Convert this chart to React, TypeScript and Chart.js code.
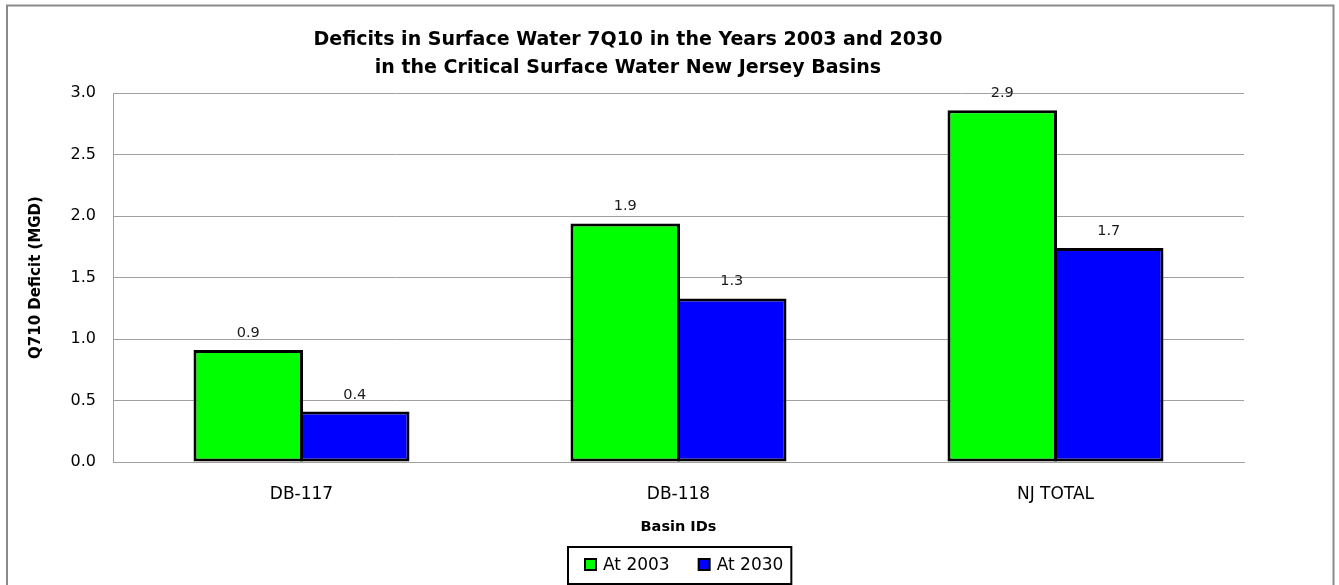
import React, { useEffect, useRef } from "react";
import { Chart, registerables } from "chart.js";

Chart.register(...registerables);

// Basins and the 7Q10 deficits (MGD) for each planning year
const basins = ["DB-117", "DB-118", "NJ TOTAL"];
const deficit2003 = [0.91, 1.94, 2.86];
const deficit2030 = [0.41, 1.33, 1.74];
const seriesNames = ["At 2003", "At 2030"];
const seriesColors = ["#00ff00", "#0000ff"];

const chartTitle = [
  "Deficits in Surface Water 7Q10 in the Years 2003 and 2030",
  "in the Critical Surface Water New Jersey Basins",
];
const yAxisTitle = "Q710 Deficit (MGD)";
const xAxisTitle = "Basin IDs";
const yMin = 0;
const yMax = 3;
const yStep = 0.5;

const W = 1339;
const H = 585;
const FONT = "'DejaVu Sans', Verdana, sans-serif";

// Thin grey frame around the whole chart
const framePlugin = {
  id: "outerFrame",
  beforeDraw(chart: any) {
    const ctx = chart.ctx;
    ctx.save();
    ctx.fillStyle = "#ffffff";
    ctx.fillRect(0, 0, chart.width, chart.height);
    ctx.strokeStyle = "#8a8a8a";
    ctx.lineWidth = 2;
    ctx.strokeRect(7, 5.5, 1326.5, 700);
    ctx.restore();
  },
};

// Value labels above every bar (one decimal)
const valueLabelPlugin = {
  id: "valueLabels",
  afterDatasetsDraw(chart: any) {
    const ctx = chart.ctx;
    ctx.save();
    ctx.font = `14.5px ${FONT}`;
    ctx.fillStyle = "#1a1a1a";
    ctx.textAlign = "center";
    ctx.textBaseline = "alphabetic";
    chart.data.datasets.forEach((ds: any, i: number) => {
      const meta = chart.getDatasetMeta(i);
      meta.data.forEach((bar: any, j: number) => {
        const v = Number(ds.data[j]);
        ctx.fillText(v.toFixed(1), bar.x, bar.y - 13);
      });
    });
    ctx.restore();
  },
};

// Legend in a black box under the axis title
const boxedLegendPlugin = {
  id: "boxedLegend",
  afterDraw(chart: any) {
    const ctx = chart.ctx;
    const area = chart.chartArea;
    const datasets = chart.data.datasets;
    ctx.save();
    ctx.font = `17px ${FONT}`;
    const sq = 11;
    const gapSqText = 7;
    const gapItems = 29;
    const padL = 17;
    const padR = 10;
    const widths = datasets.map((d: any) => ctx.measureText(d.label).width);
    let content = 0;
    widths.forEach((w: number, i: number) => {
      content += sq + gapSqText + w + (i < widths.length - 1 ? gapItems : 0);
    });
    const boxW = padL + content + padR;
    const cx = (area.left + area.right) / 2 + 1;
    const left = Math.round(cx - boxW / 2);
    const top = 546;
    const boxH = 39;
    ctx.strokeStyle = "#000000";
    ctx.lineWidth = 2;
    ctx.strokeRect(left + 1, top + 1, boxW - 2, boxH - 2);
    const cy = top + 18.5;
    let x = left + padL + 1;
    datasets.forEach((d: any, i: number) => {
      ctx.fillStyle = d.backgroundColor;
      ctx.fillRect(x, cy - sq / 2, sq, sq);
      ctx.strokeStyle = "#000000";
      ctx.lineWidth = 2;
      ctx.strokeRect(x, cy - sq / 2, sq, sq);
      x += sq + gapSqText;
      ctx.fillStyle = "#000000";
      ctx.textAlign = "left";
      ctx.textBaseline = "middle";
      ctx.fillText(d.label, x, cy + 1);
      x += widths[i] + gapItems;
    });
    ctx.restore();
  },
};

export default function App() {
  const canvasRef = useRef<HTMLCanvasElement | null>(null);

  useEffect(() => {
    document.body.style.margin = "0";
    const canvas = canvasRef.current;
    if (!canvas) return;
    const chart = new Chart(canvas, {
      type: "bar",
      data: {
        labels: basins,
        datasets: [
          {
            label: seriesNames[0],
            data: deficit2003,
            backgroundColor: seriesColors[0],
            borderColor: "#000000",
            borderWidth: 3,
            borderSkipped: false,
          },
          {
            label: seriesNames[1],
            data: deficit2030,
            backgroundColor: seriesColors[1],
            borderColor: "#000000",
            borderWidth: 3,
            borderSkipped: false,
          },
        ],
      },
      options: {
        responsive: false,
        animation: false,
        devicePixelRatio: 1,
        categoryPercentage: 0.565,
        barPercentage: 1.028,
        layout: { padding: { left: 12, right: 95, top: 0, bottom: 0 } },
        plugins: {
          legend: { display: false },
          tooltip: { enabled: false },
          title: {
            display: true,
            text: chartTitle,
            color: "#000000",
            font: { family: FONT, weight: "bold", size: 19, lineHeight: 28 / 19 },
            padding: { top: 26, bottom: 11 },
          },
        },
        scales: {
          x: {
            grid: { display: false },
            border: { display: true, color: "#a0a0a0", width: 1 },
            ticks: {
              color: "#000000",
              font: { family: FONT, size: 17 },
              padding: 14,
            },
            title: {
              display: true,
              text: xAxisTitle,
              color: "#000000",
              font: { family: FONT, weight: "bold", size: 14.5 },
              padding: { top: 0, bottom: 48.8 },
            },
            afterFit(scale: any) {
              scale.height = 123;
            },
          },
          y: {
            min: yMin,
            max: yMax,
            grid: { color: "#a0a0a0", lineWidth: 1, drawTicks: false },
            border: { display: true, color: "#a0a0a0", width: 1 },
            ticks: {
              stepSize: yStep,
              color: "#000000",
              font: { family: FONT, size: 16 },
              padding: 17,
              callback: (v: any) => Number(v).toFixed(1),
            },
            title: {
              display: true,
              text: yAxisTitle,
              color: "#000000",
              font: { family: FONT, weight: "bold", size: 15 },
              padding: { top: 15, bottom: 0 },
            },
            afterFit(scale: any) {
              scale.width = 101;
            },
          },
        },
      },
      plugins: [framePlugin, valueLabelPlugin, boxedLegendPlugin],
    });
    return () => chart.destroy();
  }, []);

  return (
    <div style={{ position: "absolute", left: 0, top: 0, width: W, height: H, background: "#fff" }}>
      <canvas ref={canvasRef} width={W} height={H} style={{ display: "block", width: W, height: H }} />
    </div>
  );
}
